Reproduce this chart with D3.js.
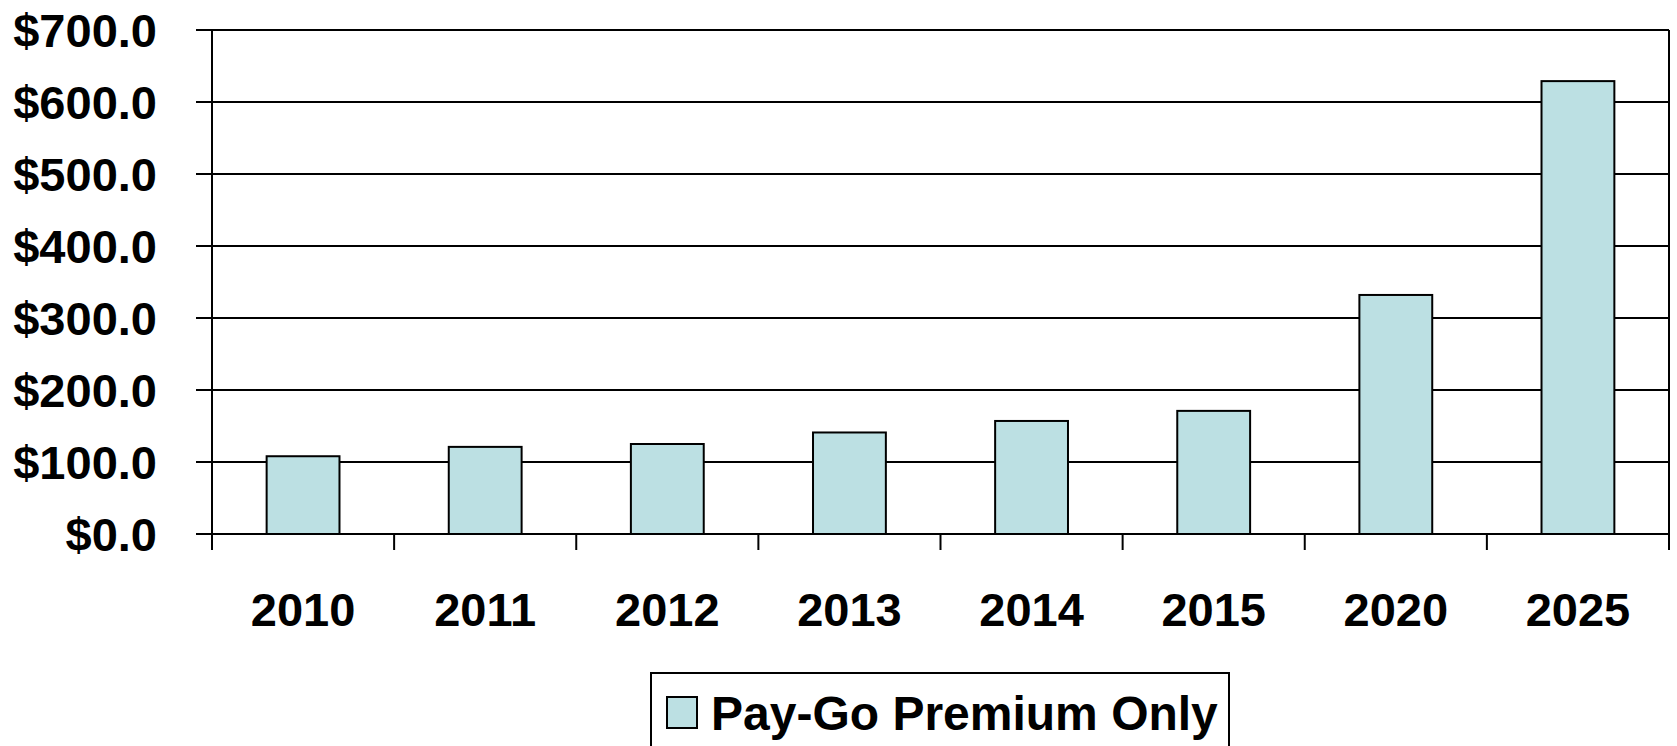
<!DOCTYPE html>
<html>
<head>
<meta charset="utf-8">
<script src="https://cdn.jsdelivr.net/npm/d3@7"></script>
<style>
  body { margin: 0; background: #fff; }
  text { font-family: "Liberation Sans", Arial, sans-serif; font-weight: bold; fill: #000; }
</style>
</head>
<body>
<div id="chart"></div>
<script>
// data
var years = ["2010", "2011", "2012", "2013", "2014", "2015", "2020", "2025"];
var premium = [108, 121, 125, 141, 157, 171, 332, 629];
var yTicks = [0, 100, 200, 300, 400, 500, 600, 700];
var seriesName = "Pay-Go Premium Only";

var width = 1677, height = 746;
var plotLeft = 212, plotRight = 1669, plotTop = 30, plotBottom = 534;

var svg = d3.select("#chart").append("svg")
  .attr("width", width)
  .attr("height", height);

var x = d3.scaleBand()
  .domain(years)
  .range([plotLeft, plotRight])
  .paddingInner(0.6)
  .paddingOuter(0.3);

var y = d3.scaleLinear()
  .domain([0, 700])
  .range([plotBottom, plotTop]);

// gridlines
svg.append("g")
  .selectAll("line")
  .data(yTicks)
  .enter().append("line")
  .attr("x1", plotLeft - 16)
  .attr("x2", plotRight)
  .attr("y1", function (d) { return y(d); })
  .attr("y2", function (d) { return y(d); })
  .style("stroke", "#000")
  .style("stroke-width", "2px");

// right border of plot area
svg.append("line")
  .attr("x1", plotRight).attr("x2", plotRight)
  .attr("y1", plotTop).attr("y2", plotBottom + 16)
  .style("stroke", "#000")
  .style("stroke-width", "2px");

// bars
svg.append("g")
  .selectAll("rect")
  .data(premium)
  .enter().append("rect")
  .attr("x", function (d, i) { return x(years[i]); })
  .attr("y", function (d) { return y(d); })
  .attr("width", x.bandwidth())
  .attr("height", function (d) { return y(0) - y(d); })
  .style("fill", "#bce0e3")
  .style("stroke", "#000")
  .style("stroke-width", "2px");

// y axis
var yAxis = svg.append("g")
  .attr("transform", "translate(" + plotLeft + ",0)")
  .call(d3.axisLeft(y).tickValues(yTicks).tickSize(0).tickPadding(55)
    .tickFormat(function (d) { return "$" + d3.format(".1f")(d); }));
yAxis.select(".domain").remove();
yAxis.append("line")
  .attr("x1", 0).attr("x2", 0)
  .attr("y1", plotTop).attr("y2", plotBottom + 16)
  .style("stroke", "#000")
  .style("stroke-width", "2px");
yAxis.selectAll("text")
  .style("font-size", "47px")
  .style("font-family", "'Liberation Sans', Arial, sans-serif")
  .attr("dy", "0.36em");

// x axis: ticks sit between categories
var step = x.step();
var xAxis = svg.append("g")
  .attr("transform", "translate(0," + plotBottom + ")");
xAxis.selectAll("line")
  .data(d3.range(years.length + 1))
  .enter().append("line")
  .attr("x1", function (i) { return plotLeft + i * step; })
  .attr("x2", function (i) { return plotLeft + i * step; })
  .attr("y1", 0)
  .attr("y2", 16)
  .style("stroke", "#000")
  .style("stroke-width", "2px");
xAxis.selectAll("text")
  .data(years)
  .enter().append("text")
  .attr("x", function (d) { return x(d) + x.bandwidth() / 2; })
  .attr("y", 92)
  .attr("text-anchor", "middle")
  .style("font-size", "47px")
  .text(function (d) { return d; });

// legend
var legend = svg.append("g");
legend.append("rect")
  .attr("x", 651).attr("y", 673)
  .attr("width", 578).attr("height", 100)
  .style("fill", "#fff")
  .style("stroke", "#000")
  .style("stroke-width", "2px");
legend.append("rect")
  .attr("x", 667).attr("y", 697)
  .attr("width", 30).attr("height", 31)
  .style("fill", "#bce0e3")
  .style("stroke", "#000")
  .style("stroke-width", "2px");
legend.append("text")
  .attr("x", 711).attr("y", 730)
  .style("font-size", "48px")
  .text(seriesName);
</script>
</body>
</html>
